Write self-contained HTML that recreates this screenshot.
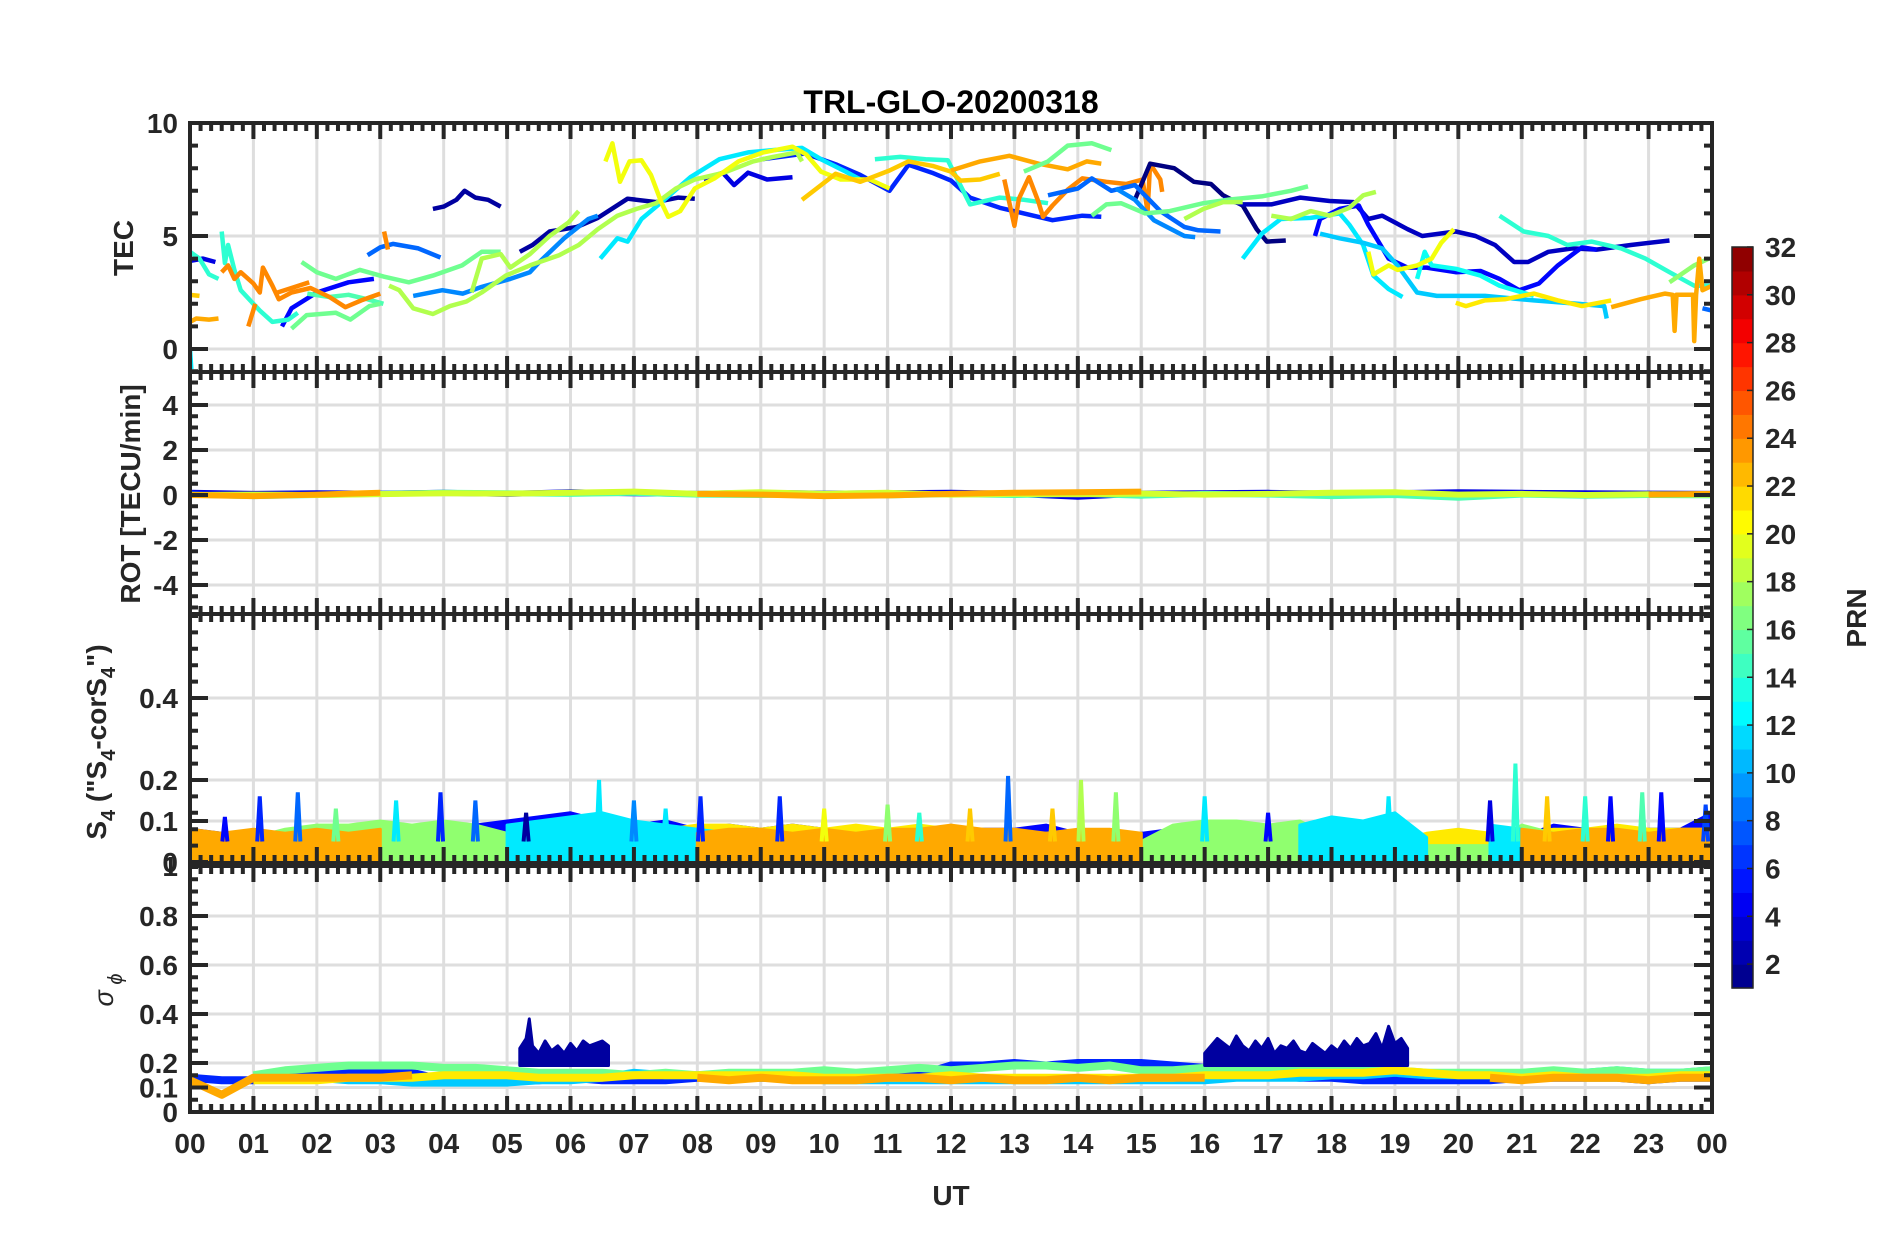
<!DOCTYPE html>
<html><head><meta charset="utf-8">
<style>
html,body{margin:0;padding:0;background:#fff;}
svg{display:block;}
text{font-family:"Liberation Sans",Arial,sans-serif;fill:#262626;}
</style></head>
<body>
<svg id="chart" width="1902" height="1236" viewBox="0 0 1902 1236" xmlns="http://www.w3.org/2000/svg">
<rect x="0" y="0" width="1902" height="1236" fill="#fff"/>
<text x="951" y="113" text-anchor="middle" font-size="32" font-weight="bold" style="fill:#000">TRL-GLO-20200318</text>
<g id="grids"></g>
<g id="series"></g>
<g id="axes"></g>
<g id="labels"></g>
<text transform="translate(133,248) rotate(-90)" text-anchor="middle" font-size="28" font-weight="bold">TEC</text>
<text transform="translate(140,494) rotate(-90)" text-anchor="middle" font-size="28" font-weight="bold">ROT [TECU/min]</text>
<text transform="translate(106,742) rotate(-90)" text-anchor="middle" font-size="28" font-weight="bold">S<tspan font-size="20" dy="9">4</tspan><tspan dy="-9"> ("S</tspan><tspan font-size="20" dy="9">4</tspan><tspan dy="-9">-corS</tspan><tspan font-size="20" dy="9">4</tspan><tspan dy="-9">")</tspan></text>
<text transform="translate(113,990) rotate(-90)" text-anchor="middle" font-size="27" font-style="italic">σ<tspan font-size="20" dy="9"> ϕ</tspan></text>
<text x="951" y="1205" text-anchor="middle" font-size="28" font-weight="bold">UT</text>
<g id="colorbar"></g>
<text transform="translate(1866,618) rotate(-90)" text-anchor="middle" font-size="28" font-weight="bold">PRN</text>
</svg>
<script>
// ---------------- data ----------------
const tecT1=[3.83,4.0,4.2,4.33,4.5,4.7,4.9]; const tecV1=[6.2,6.3,6.6,7.0,6.7,6.6,6.3];
const tecT2=[5.2,5.4,5.67,6.1,6.43,6.9,7.35,7.7,7.96]; const tecV2=[4.3,4.6,5.2,5.4,5.8,6.65,6.5,6.7,6.65];
const tecT3=[9.03,9.3,9.7,10.2,10.57,11.03,11.33,11.7,12.0,12.3,12.77,13.15,13.6,14.07,14.37]; const tecV3=[8.4,8.5,8.65,8.15,7.7,7.0,8.15,7.8,7.45,6.7,6.25,6.0,5.7,5.9,5.85];
const tecT4=[8.1,8.4,8.58,8.8,9.1,9.5]; const tecV4=[7.5,7.8,7.25,7.8,7.5,7.6];
const tecT5=[0,0.2,0.4]; const tecV5=[3.9,4.0,3.85];
const tecT6=[1.45,1.6,2.0,2.5,2.9]; const tecV6=[1.0,1.8,2.5,2.95,3.1];
const tecT7=[2.8,3.0,3.2,3.6,3.95]; const tecV7=[4.15,4.5,4.65,4.45,4.05];
const tecT8=[3.52,3.98,4.3,4.6,5.05,5.36,5.51,5.9,6.28,6.43]; const tecV8=[2.35,2.6,2.45,2.75,3.1,3.4,3.85,4.9,5.75,5.9];
const tecT9=[6.47,6.74,6.9,7.12,7.5,7.89,8.35,8.8,9.19,9.65,9.95,10.34,10.57]; const tecV9=[4.0,4.9,4.75,5.75,6.65,7.6,8.4,8.7,8.8,8.9,8.4,7.85,7.5];
const tecT10=[0.0,0.15,0.3,0.45]; const tecV10=[4.3,4.0,3.3,3.1];
const tecT11=[0.5,0.55,0.6,0.7,0.8,1.0,1.1,1.3,1.55,1.7]; const tecV11=[5.2,3.8,4.6,3.5,2.6,2.0,1.7,1.2,1.3,1.6];
const tecT12=[1.85,2.2,2.5,2.8,3.05]; const tecV12=[2.45,2.3,2.4,2.2,2.0];
const tecT13=[10.8,11.2,11.6,11.95,12.3,12.77,13.15,13.53]; const tecV13=[8.4,8.5,8.4,8.35,6.4,6.7,6.6,6.45];
const tecT14=[1.76,2.0,2.3,2.68,3.06,3.45,3.83,4.29,4.6,4.9]; const tecV14=[3.85,3.4,3.1,3.5,3.2,2.95,3.25,3.7,4.3,4.3];
const tecT15=[1.6,1.84,2.3,2.53,2.83,3.0]; const tecV15=[0.9,1.5,1.6,1.3,1.9,2.0];
const tecT16=[3.14,3.3,3.52,3.83,4.1,4.36,4.6,4.98,5.36,5.82,6.13,6.43,6.74,7.04,7.35,7.66,7.96,8.42,8.88,9.19,9.57,9.65]; const tecV16=[2.8,2.6,1.8,1.55,1.9,2.1,2.5,3.25,3.7,4.15,4.6,5.3,5.9,6.2,6.45,7.1,7.5,7.8,8.3,8.5,8.7,8.3];
const tecT17=[4.44,4.6,4.9,5.05,5.36,5.67,5.97,6.13]; const tecV17=[2.5,4.0,4.2,3.6,4.2,5.0,5.6,6.1];
const tecT18=[6.55,6.66,6.78,6.93,7.12,7.27,7.43,7.54,7.73,7.96,8.27,8.65,9.04,9.5,9.72,9.95,10.26,10.72,11.03]; const tecV18=[8.3,9.1,7.4,8.3,8.35,7.7,6.5,5.85,6.1,7.1,7.55,8.3,8.7,8.95,8.6,7.85,7.5,7.5,7.1];
const tecT19=[0,0.15]; const tecV19=[2.4,2.35];
const tecT20=[9.65,9.95,10.18,10.57,11.03,11.33,11.71,12.0,12.15,12.46,12.77]; const tecV20=[6.6,7.25,7.75,7.4,7.9,8.3,8.1,7.85,7.45,7.5,7.75];
const tecT21=[0,0.1,0.3,0.45]; const tecV21=[1.2,1.35,1.3,1.35];
const tecT22=[0.5,0.6,0.7,0.8,1.0,1.1,1.15,1.3,1.4,1.6,1.9,2.2,2.45,2.7,3.0]; const tecV22=[3.4,3.7,3.1,3.4,2.9,2.5,3.6,2.8,2.2,2.5,2.7,2.3,1.85,2.15,2.45];
const tecT23=[0.92,1.03]; const tecV23=[1.0,2.0];
const tecT24=[3.06,3.12]; const tecV24=[5.2,4.4];
const tecT25=[1.38,1.6,1.88]; const tecV25=[2.5,2.7,2.95];
const tecT26=[12.0,12.46,12.92,13.38,13.84,14.14,14.37]; const tecV26=[7.9,8.3,8.55,8.2,7.95,8.3,8.2];
const tecT27=[12.84,13.0,13.07,13.23,13.38,13.45,13.6,13.84,14.07,14.45,14.76,15.02,15.1,15.14,15.3,15.33]; const tecV27=[7.5,5.45,6.65,7.6,6.5,5.85,6.35,7.05,7.55,7.4,7.3,7.5,6.1,8.2,7.5,6.95];
const tecT28=[14.9,15.14,15.52,15.83,16.1,16.29,16.6,16.82,16.98,17.28]; const tecV28=[6.6,8.2,8.0,7.4,7.3,6.8,6.35,5.3,4.75,4.8];
const tecT29=[16.29,16.6,17.05,17.51,17.97,18.35,18.58,18.8,19.2,19.43,19.96,20.27,20.58,20.88,21.1,21.42,21.8,22.18,22.72,23.33]; const tecV29=[6.65,6.4,6.4,6.7,6.55,6.5,5.75,5.9,5.3,5.0,5.2,5.0,4.6,3.85,3.85,4.3,4.45,4.4,4.6,4.8];
const tecT30=[17.74,17.82,18.13,18.43,18.58,18.9,19.2,19.5,19.96,20.35,20.65,20.96,21.27,21.57,21.95,22.18]; const tecV30=[5.0,5.75,6.2,6.35,5.5,4.0,3.6,3.6,3.4,3.45,3.1,2.6,2.9,3.7,4.5,4.4];
const tecT31=[13.53,14.0,14.22,14.53,14.9,15.3,15.68,15.9,16.25]; const tecV31=[6.8,7.1,7.55,7.0,7.25,6.1,5.4,5.25,5.2];
const tecT32=[14.6,14.9,15.2,15.68,15.85]; const tecV32=[7.1,6.6,5.7,5.0,4.95];
const tecT33=[16.6,16.9,17.2,17.67,18.13,18.28,18.5,18.66,18.9,19.12]; const tecV33=[4.0,5.1,5.75,5.8,6.0,5.5,4.6,3.25,2.65,2.3];
const tecT34=[17.82,18.13,18.5,18.8,19.04,19.35,19.66,20.42,21.19,21.88,22.3,22.34]; const tecV34=[5.1,4.9,4.7,4.45,3.7,2.5,2.35,2.35,2.15,2.0,1.9,1.35];
const tecT35=[19.35,19.47,19.58,19.96,20.35,20.65,21.19]; const tecV35=[3.1,4.3,3.7,3.55,3.25,2.8,2.35];
const tecT36=[20.65,21.03,21.42,21.72,22.1,22.57,22.95,23.33,23.72,24.0]; const tecV36=[5.9,5.2,5.0,4.6,4.75,4.45,4.0,3.4,2.8,2.8];
const tecT37=[13.15,13.53,13.84,14.22,14.53]; const tecV37=[7.85,8.3,9.0,9.1,8.8];
const tecT38=[14.22,14.45,14.68,15.06,15.45,15.98,16.36,16.9,17.36,17.63]; const tecV38=[5.9,6.4,6.45,6.0,6.1,6.45,6.6,6.75,7.0,7.2];
const tecT39=[23.33,23.72,23.95]; const tecV39=[2.95,3.7,4.0];
const tecT40=[15.68,15.98,16.29,16.6]; const tecV40=[5.75,6.2,6.5,6.5];
const tecT41=[17.05,17.36,17.67,17.97,18.28,18.5,18.7]; const tecV41=[5.9,5.75,6.1,5.9,6.25,6.8,6.95];
const tecT42=[18.58,18.66,18.9,19.04,19.35,19.58,19.73,19.93]; const tecV42=[4.3,3.3,3.7,3.5,3.7,4.0,4.7,5.3];
const tecT43=[19.96,20.12,20.42,20.73,21.19,21.57,21.95,22.41]; const tecV43=[2.05,1.9,2.15,2.2,2.45,2.15,1.9,2.15];
const tecT44=[22.41,22.87,23.26,23.38,23.41,23.44,23.7,23.72,23.75,23.8,23.85,24.0]; const tecV44=[1.85,2.2,2.45,2.4,0.8,2.4,2.4,0.35,2.4,4.0,2.6,2.8];
const tecT45=[0,0.02]; const tecV45=[0.0,-0.9];
const tecT46=[23.85,24.0]; const tecV46=[1.8,1.7];
const tecPrn=[2,2,6,4,4,5,8,9,12,14,14,15,14,16,16,18,18,20,22,22,23,24,24,24,24,23,24,1,3,5,8,9,12,11,13,14,16,16,17,18,18,20,21,23,12,8];
const tecTimes=[tecT1,tecT2,tecT3,tecT4,tecT5,tecT6,tecT7,tecT8,tecT9,tecT10,tecT11,tecT12,tecT13,tecT14,tecT15,tecT16,tecT17,tecT18,tecT19,tecT20,tecT21,tecT22,tecT23,tecT24,tecT25,tecT26,tecT27,tecT28,tecT29,tecT30,tecT31,tecT32,tecT33,tecT34,tecT35,tecT36,tecT37,tecT38,tecT39,tecT40,tecT41,tecT42,tecT43,tecT44,tecT45,tecT46];
const tecVals=[tecV1,tecV2,tecV3,tecV4,tecV5,tecV6,tecV7,tecV8,tecV9,tecV10,tecV11,tecV12,tecV13,tecV14,tecV15,tecV16,tecV17,tecV18,tecV19,tecV20,tecV21,tecV22,tecV23,tecV24,tecV25,tecV26,tecV27,tecV28,tecV29,tecV30,tecV31,tecV32,tecV33,tecV34,tecV35,tecV36,tecV37,tecV38,tecV39,tecV40,tecV41,tecV42,tecV43,tecV44,tecV45,tecV46];

// ROT hourly
const rotBlue  =[0.10,0.05,0.08,0.06,0.10,0.05,0.12,0.08,0.05,0.10,0.06,0.08,0.10,0.05,-0.08,0.06,0.08,0.10,0.06,0.08,0.12,0.10,0.08,0.06,0.05];
const rotGreen =[0.02,-0.05,0.00,0.05,0.10,0.08,0.05,0.10,0.02,0.00,0.05,-0.02,0.04,0.00,0.06,-0.03,0.05,0.02,-0.05,0.00,-0.12,0.02,-0.03,0.00,-0.02];
const rotYellow=[0.00,0.02,0.00,0.04,0.08,0.06,0.10,0.15,0.05,0.12,0.05,0.10,0.02,0.05,0.03,0.06,0.02,0.05,0.10,0.12,0.02,0.05,0.00,0.03,0.02];
const rotOrange=[0.00,-0.05,0.02,0.10,null,null,null,null,0.05,0.02,-0.05,-0.02,0.05,0.10,0.12,0.15,null,null,null,null,null,null,null,0.02,0.05];

// S4 half-hourly
const s4Blue  =[0.08,0.07,0.06,0.07,0.06,0.07,0.06,0.07,0.06,0.09,0.10,0.11,0.12,0.10,0.09,0.10,0.08,0.09,0.08,0.09,0.08,0.07,0.08,0.07,0.07,0.08,0.08,0.09,0.07,0.06,0.07,0.08,0.07,0.08,0.08,0.06,0.07,0.08,0.07,0.05,0.05,0.06,0.06,0.09,0.08,0.07,0.08,0.08,0.12];
const s4Gold  =[0.05,0.04,0.04,0.04,0.04,0.03,0.03,0.04,0.04,0.04,0.06,0.07,0.08,0.07,0.08,0.08,0.09,0.09,0.08,0.09,0.08,0.09,0.08,0.09,0.08,0.08,0.07,0.05,0.05,0.05,0.04,0.03,0.03,0.03,0.03,0.03,0.03,0.04,0.05,0.07,0.08,0.07,0.07,0.08,0.08,0.09,0.08,0.08,0.08];
const s4Green =[0.05,0.05,0.06,0.08,0.09,0.09,0.10,0.09,0.10,0.09,0.07,0.05,0.05,0.05,0.05,0.05,0.05,0.05,0.05,0.05,0.06,0.07,0.06,0.05,0.06,0.05,0.06,0.07,0.06,0.06,0.05,0.09,0.10,0.10,0.09,0.10,0.06,0.05,0.05,0.04,0.04,0.04,0.09,0.07,0.06,0.06,0.05,0.06,0.05];
const s4Cyan  =[null,null,null,null,null,null,null,null,null,null,0.09,0.10,0.11,0.12,0.10,0.09,0.08,0.07,0.06,null,null,null,null,null,null,null,null,null,null,null,null,null,null,null,null,0.09,0.11,0.10,0.12,0.06,null,0.09,0.08,null,null,null,null,null,null];
const s4Orange=[0.08,0.07,0.08,0.07,0.08,0.07,0.08,null,null,null,null,null,null,null,null,null,0.07,0.08,0.08,0.07,0.08,0.07,0.08,0.08,0.09,0.08,0.08,0.07,0.08,0.08,0.07,null,null,null,null,null,null,null,null,null,null,null,0.08,0.07,0.08,0.08,0.07,0.08,0.08];
const s4SpikeT=[0.55,1.1,1.7,2.3,3.25,3.95,4.5,5.3,6.45,7.0,7.5,8.05,9.3,10.0,11.0,11.5,12.3,12.9,13.6,14.05,14.6,16.0,17.0,18.9,20.5,20.9,21.4,22.0,22.4,22.9,23.2,23.9];
const s4SpikeV=[0.11,0.16,0.17,0.13,0.15,0.17,0.15,0.12,0.20,0.15,0.13,0.16,0.16,0.13,0.14,0.12,0.13,0.21,0.13,0.20,0.17,0.16,0.12,0.16,0.15,0.24,0.16,0.16,0.16,0.17,0.17,0.14];
const s4SpikePrn=[5,6,8,16,12,6,8,2,12,9,12,6,6,20,17,14,22,8,22,18,17,12,5,12,4,14,22,14,5,15,5,7];

// sigma half-hourly
const sigOrange=[0.13,0.07,0.14,0.14,0.14,0.14,0.14,0.15,null,null,null,null,null,null,null,null,0.14,0.13,0.14,0.13,0.13,0.13,0.14,0.14,0.13,0.14,0.13,0.13,0.14,0.13,0.14,0.14,0.14,null,null,null,null,null,null,null,null,0.14,0.13,0.14,0.14,0.14,0.13,0.14,0.14];
const sigGold  =[0.14,null,0.13,0.13,0.13,0.14,0.14,0.14,0.15,0.15,0.15,0.14,0.14,0.14,0.15,0.15,0.15,0.15,0.15,0.15,0.14,0.14,0.14,0.14,0.15,0.14,0.14,0.14,0.14,0.14,0.14,0.14,0.15,0.15,0.15,0.16,0.16,0.16,0.17,0.16,0.15,0.15,0.14,0.15,0.14,0.14,0.14,0.15,0.15];
const sigGreen =[0.17,null,0.15,0.17,0.18,0.19,0.19,0.19,0.18,0.18,0.17,0.16,0.16,0.16,0.15,0.16,0.15,0.16,0.16,0.16,0.17,0.16,0.17,0.18,0.17,0.18,0.19,0.19,0.18,0.19,0.17,0.17,0.18,0.18,0.18,0.18,0.18,0.17,0.17,0.16,0.16,0.16,0.16,0.17,0.16,0.17,0.16,0.16,0.17];
const sigBlue  =[0.14,0.13,0.13,0.16,0.17,0.17,0.17,0.16,0.13,0.13,0.13,0.13,0.14,0.13,0.13,0.13,0.14,0.14,0.14,0.14,0.14,0.15,0.16,0.15,0.19,0.19,0.20,0.19,0.20,0.20,0.20,0.19,0.18,0.17,0.15,0.14,0.14,0.13,0.13,0.13,0.13,0.13,0.14,0.14,0.14,0.14,0.13,0.14,0.14];
const sigCyan  =[0.13,null,0.13,0.14,0.14,0.13,0.13,0.12,0.12,0.12,0.12,0.13,0.13,0.14,0.16,0.15,0.15,0.15,0.14,0.14,0.13,0.13,0.13,0.13,0.13,0.13,0.13,0.13,0.13,0.13,0.13,0.13,0.13,0.14,0.14,0.14,0.15,0.15,0.16,0.15,0.15,0.15,0.15,0.16,0.16,0.17,0.16,0.16,0.17];
const navy1T=[5.2,5.3,5.35,5.4,5.5,5.6,5.7,5.8,5.9,6.0,6.1,6.2,6.3,6.4,6.5,6.6];
const navy1V=[0.26,0.30,0.38,0.27,0.24,0.29,0.25,0.27,0.24,0.28,0.25,0.29,0.27,0.28,0.29,0.27];
const navy2T=[16.0,16.1,16.2,16.3,16.4,16.5,16.6,16.7,16.8,16.9,17.0,17.1,17.2,17.3,17.4,17.5,17.6,17.7,17.8,17.9,18.0,18.1,18.2,18.3,18.4,18.5,18.6,18.7,18.8,18.9,19.0,19.1,19.2];
const navy2V=[0.24,0.27,0.30,0.28,0.26,0.31,0.27,0.25,0.29,0.26,0.30,0.24,0.27,0.26,0.29,0.25,0.24,0.28,0.26,0.24,0.27,0.25,0.29,0.26,0.30,0.27,0.28,0.32,0.26,0.35,0.28,0.30,0.26];

// ---------------- layout ----------------
const NS='http://www.w3.org/2000/svg';
const X0=190,X1=1712;
function xs(h){return X0+h*(X1-X0)/24;}
const P=[
 {name:'tec',top:123,bot:372,y:v=>349-v*22.6,major:[0,5,10],labels:['0','5','10'],minStep:1,minFrom:-1,minTo:10},
 {name:'rot',top:372,bot:614,y:v=>495-v*22.5,major:[-4,-2,0,2,4],labels:['-4','-2','0','2','4'],minStep:0.5,minFrom:-5,minTo:5.5},
 {name:'s4',top:614,bot:863,y:v=>862-v*410,major:[0,0.1,0.2,0.4],labels:['0','0.1','0.2','0.4'],minStep:0.04,minFrom:0,minTo:0.6},
 {name:'sigma',top:866,bot:1112,y:v=>1112-v*245,major:[0,0.1,0.2,0.4,0.6,0.8],labels:['0','0.1','0.2','0.4','0.6','0.8'],minStep:0.05,minFrom:0,minTo:1}
];
function jet(p){
  const t=(p-1)/31;
  const r=Math.max(0,Math.min(1,1.5-Math.abs(4*t-3)));
  const g=Math.max(0,Math.min(1,1.5-Math.abs(4*t-2)));
  const b=Math.max(0,Math.min(1,1.5-Math.abs(4*t-1)));
  return 'rgb('+Math.round(r*255)+','+Math.round(g*255)+','+Math.round(b*255)+')';
}
function mk(tag,attrs,parent){const e=document.createElementNS(NS,tag);for(const k in attrs)e.setAttribute(k,attrs[k]);parent.appendChild(e);return e;}
const grids=document.getElementById('grids'),series=document.getElementById('series'),axes=document.getElementById('axes'),labels=document.getElementById('labels');

P.forEach(p=>{
  for(let h=1;h<24;h++){const l=mk('line',{x1:xs(h),x2:xs(h),y1:p.top,y2:p.bot,stroke:'#dedede','stroke-width':3},grids);
    
    }
  p.major.forEach(v=>{const l=mk('line',{x1:X0,x2:X1,y1:p.y(v),y2:p.y(v),stroke:'#dedede','stroke-width':3},grids);
    
    });
});

function clipFor(p){return 'url(#clip-'+p.name+')';}
const defs=mk('defs',{},document.getElementById('chart'));
P.forEach(p=>{const c=mk('clipPath',{id:'clip-'+p.name},defs);mk('rect',{x:X0,y:p.top,width:X1-X0,height:p.bot-p.top},c);});
function poly(p,ts,vs,color,w,name){
  const pts=ts.map((t,i)=>xs(t).toFixed(1)+','+p.y(vs[i]).toFixed(1)).join(' ');
  const e=mk('polyline',{points:pts,fill:'none',stroke:color,'stroke-width':w,'stroke-linejoin':'round','clip-path':clipFor(p)},series);
  
  
  return e;
}
function halfT(i){return i*0.5;}
function runs(arr){const r=[];let cur=null;arr.forEach((v,i)=>{if(v===null){cur=null;}else{if(!cur){cur={t:[],v:[]};r.push(cur);}cur.t.push(halfT(i));cur.v.push(v);}});return r;}
function area(p,ts,vs,color,name){
  let pts=xs(ts[0]).toFixed(1)+','+p.y(0)+' ';
  pts+=ts.map((t,i)=>xs(t).toFixed(1)+','+p.y(vs[i]).toFixed(1)).join(' ');
  pts+=' '+xs(ts[ts.length-1]).toFixed(1)+','+p.y(0);
  const e=mk('polygon',{points:pts,fill:color,stroke:color,'stroke-width':3,'stroke-linejoin':'round','clip-path':clipFor(p)},series);
  
  
}

tecTimes.forEach((ts,i)=>poly(P[0],ts,tecVals[i],jet(tecPrn[i]),4.5,'tec-line-prn'+tecPrn[i]));

[[rotBlue,4],[rotGreen,15],[rotYellow,19],[rotOrange,23]].forEach(([arr,prn])=>{
  runs(arr).forEach(r=>poly(P[1],r.t.map(t=>t*2),r.v,jet(prn),6,'rot-line-prn'+prn));
});

[[s4Blue,5],[s4Gold,21],[s4Green,17],[s4Cyan,12],[s4Orange,23]].forEach(([arr,prn])=>{
  runs(arr).forEach(r=>area(P[2],r.t,r.v,jet(prn),'s4-area-prn'+prn));
});
s4SpikeT.forEach((t,i)=>{
  const e=mk('polyline',{points:xs(t-0.04)+','+P[2].y(0.05)+' '+xs(t)+','+P[2].y(s4SpikeV[i])+' '+xs(t+0.04)+','+P[2].y(0.05),fill:'none',stroke:jet(s4SpikePrn[i]),'stroke-width':4,'clip-path':clipFor(P[2])},series);
  
  
});

[[sigBlue,6],[sigCyan,11],[sigGreen,16],[sigGold,21],[sigOrange,23]].forEach(([arr,prn])=>{
  runs(arr).forEach(r=>poly(P[3],r.t,r.v,jet(prn),8,'sigma-line-prn'+prn));
});
[[navy1T,navy1V],[navy2T,navy2V]].forEach(([ts,vs])=>{
  let pts=ts.map((t,i)=>xs(t).toFixed(1)+','+P[3].y(vs[i]).toFixed(1)).join(' ');
  pts+=' '+ts.slice().reverse().map(t=>xs(t).toFixed(1)+','+P[3].y(0.19).toFixed(1)).join(' ');
  const e=mk('polygon',{points:pts,fill:jet(2),stroke:jet(2),'stroke-width':3,'stroke-linejoin':'round'},series);
  
  
});

const AX='#262626';
P.forEach(p=>{
  const r=mk('rect',{x:X0,y:p.top,width:X1-X0,height:p.bot-p.top,fill:'none',stroke:AX,'stroke-width':4},axes);
  
  
  let d='';
  for(let m=0;m<=24*6;m++){const x=xs(m/6);const L=(m%6===0)?16:8;d+='M'+x+' '+p.top+'v'+L+'M'+x+' '+p.bot+'v'+(-L);}
  for(let v=p.minFrom;v<=p.minTo+1e-9;v+=p.minStep){const y=p.y(v);if(y<p.top-1||y>p.bot+1)continue;d+='M'+X0+' '+y+'h8M'+X1+' '+y+'h-8';}
  p.major.forEach(v=>{const y=p.y(v);d+='M'+X0+' '+y+'h18M'+X1+' '+y+'h-18';});
  const t=mk('path',{d:d,stroke:AX,'stroke-width':4,fill:'none'},axes);
  
  
  p.major.forEach((v,i)=>{const tx=mk('text',{x:178,y:p.y(v)+10,'text-anchor':'end','font-size':28,'font-weight':'bold'},labels);tx.textContent=p.labels[i];
    
    });
});
{const tx=mk('text',{x:178,y:P[3].top+10,'text-anchor':'end','font-size':28,'font-weight':'bold'},labels);tx.textContent='1';
 
 }
for(let h=0;h<=24;h++){
  const tx=mk('text',{x:xs(h),y:1153,'text-anchor':'middle','font-size':28,'font-weight':'bold'},labels);
  tx.textContent=String(h%24).padStart(2,'0');
  
  
}

const cb=document.getElementById('colorbar');
const CB0=247,CB1=988,CBX=1732,CBW=21;
function cy(v){return CB1-(v-1)*(CB1-CB0)/31;}
for(let k=1;k<=31;k++){
  const r=mk('rect',{x:CBX,y:cy(k+1),width:CBW,height:cy(k)-cy(k+1)+0.6,fill:jet(k+0.5)},cb);
  
  
}
const cbf=mk('rect',{x:CBX,y:CB0,width:CBW,height:CB1-CB0,fill:'none',stroke:AX,'stroke-width':1.5},cb);


for(let v=2;v<=32;v+=2){
  const l=mk('line',{x1:CBX+CBW-6,x2:CBX+CBW,y1:cy(v),y2:cy(v),stroke:AX,'stroke-width':1.5},cb);
  
  
  const tx=mk('text',{x:1765,y:cy(v)+10,'font-size':28,'font-weight':'bold'},cb);tx.textContent=v;
  
  
}
</script>
</body></html>
